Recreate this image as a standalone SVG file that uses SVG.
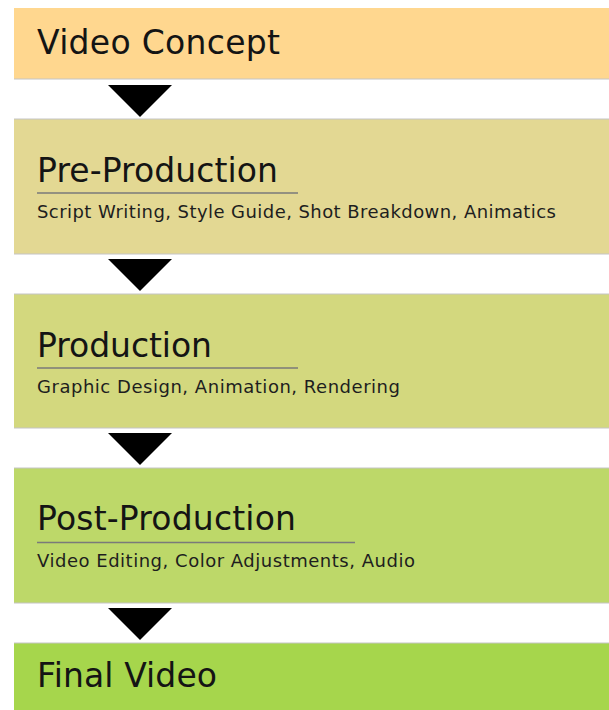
<svg xmlns="http://www.w3.org/2000/svg" width="609" height="710" viewBox="0 0 609 710">
<style>
.t{font-family:"DejaVu Sans","Liberation Sans",sans-serif;font-size:33px;fill:#141414}
.s{font-family:"DejaVu Sans","Liberation Sans",sans-serif;font-size:18px;fill:#1e1e1e}
.ul{stroke:#7a7a7a;stroke-width:1.5}
.ed{stroke:#c4c4c4;stroke-width:1}
.ar{fill:#000}
</style>
<rect width="609" height="710" fill="#fff"/>
<g id="video-concept">
<rect x="14" y="8" width="595" height="71" fill="#FFD78F"/>
<line class="ed" x1="14" y1="79" x2="609" y2="79"/>
<text class="t" x="37" y="54" textLength="243">Video Concept</text>
</g>
<g id="pre-production">
<rect x="14" y="119" width="595" height="135" fill="#E3D893"/>
<line class="ed" x1="14" y1="119" x2="609" y2="119"/>
<line class="ed" x1="14" y1="254" x2="609" y2="254"/>
<text class="t" x="37" y="182" textLength="241">Pre-Production</text>
<line class="ul" x1="37" y1="193" x2="298" y2="193"/>
<text class="s" x="37" y="218" textLength="519">Script Writing, Style Guide, Shot Breakdown, Animatics</text>
</g>
<g id="production">
<rect x="14" y="294" width="595" height="134" fill="#D3D87E"/>
<line class="ed" x1="14" y1="294" x2="609" y2="294"/>
<line class="ed" x1="14" y1="428" x2="609" y2="428"/>
<text class="t" x="37" y="357" textLength="175">Production</text>
<line class="ul" x1="37" y1="368" x2="298" y2="368"/>
<text class="s" x="37" y="393" textLength="363">Graphic Design, Animation, Rendering</text>
</g>
<g id="post-production">
<rect x="14" y="468" width="595" height="135" fill="#BDD869"/>
<line class="ed" x1="14" y1="468" x2="609" y2="468"/>
<line class="ed" x1="14" y1="603" x2="609" y2="603"/>
<text class="t" x="37" y="530" textLength="259">Post-Production</text>
<line class="ul" x1="37" y1="542.5" x2="355" y2="542.5"/>
<text class="s" x="37" y="567" textLength="378">Video Editing, Color Adjustments, Audio</text>
</g>
<g id="final-video">
<rect x="14" y="643" width="595" height="67" fill="#A6D64C"/>
<line class="ed" x1="14" y1="643" x2="609" y2="643"/>
<text class="t" x="37" y="687" textLength="180">Final Video</text>
</g>
<g id="connectors">
<polygon class="ar" points="108,85 172,85 140,117"/>
<polygon class="ar" points="108,259 172,259 140,291"/>
<polygon class="ar" points="108,433 172,433 140,465"/>
<polygon class="ar" points="108,608 172,608 140,640"/>
</g>
</svg>
